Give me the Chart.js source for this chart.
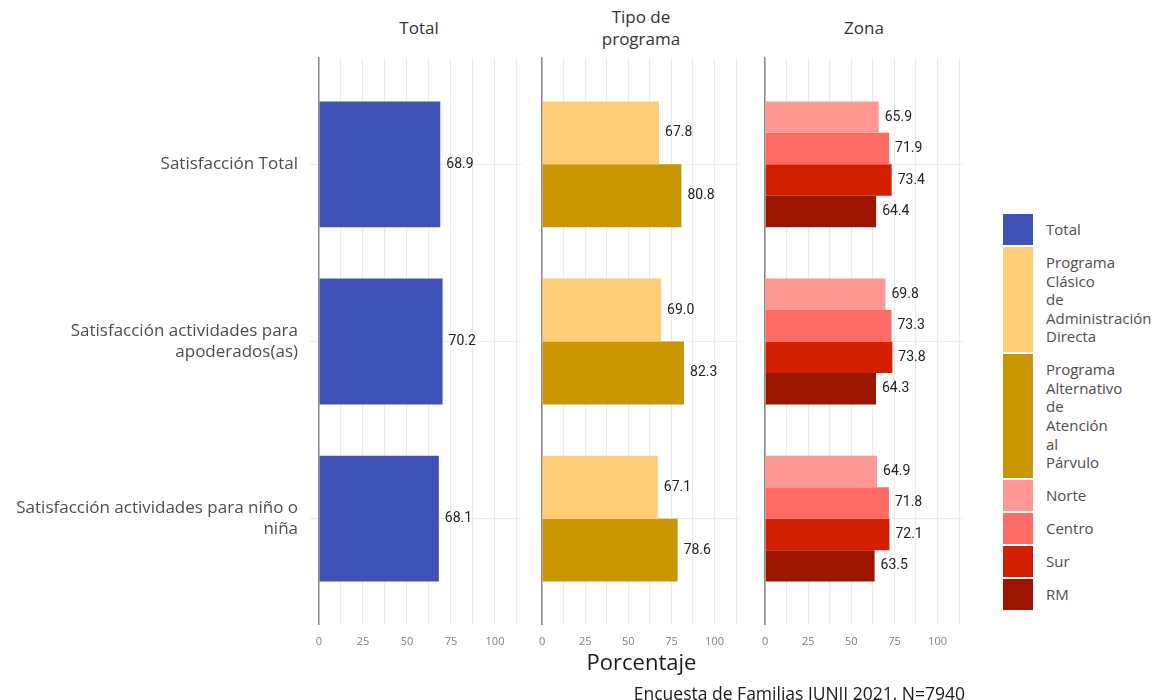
<!DOCTYPE html>
<html>
<head>
<meta charset="utf-8">
<script src="https://cdn.jsdelivr.net/npm/chart.js@4.4.0/dist/chart.umd.min.js"></script>
<style>
  body { margin: 0; background: #fff; font-family: "Open Sans", "Noto Sans", sans-serif; }
  #wrap { position: relative; width: 1156px; height: 700px; overflow: hidden; }
  canvas { position: absolute; top: 0; }
  .titulo { position: absolute; text-align: center; font-size: 17px; line-height: 22px; color: #333; }
  #ejeX { position: absolute; left: 319px; width: 645px; top: 646px; text-align: center; font-size: 22px; color: #1a1a1a; }
  #fuente { position: absolute; right: 191px; top: 681px; font-size: 17.5px; color: #1a1a1a; white-space: nowrap; }
  .clave { position: absolute; left: 1003px; width: 30px; }
  .texto { position: absolute; left: 1046px; font-size: 15px; line-height: 18.6px; color: #4d4d4d; }
</style>
</head>
<body>
<div id="wrap">
  <div class="titulo" style="left:319px;width:200px;top:17px">Total</div>
  <div class="titulo" style="left:541px;width:200px;top:6px">Tipo de<br>programa</div>
  <div class="titulo" style="left:764px;width:200px;top:17px">Zona</div>
  <canvas id="panelTotal" width="527" height="655" style="left:0px"></canvas>
  <canvas id="panelTipo" width="217" height="655" style="left:529px"></canvas>
  <canvas id="panelZona" width="217" height="655" style="left:752px"></canvas>
  <div id="ejeX">Porcentaje</div>
  <div id="fuente">Encuesta de Familias JUNJI 2021, N=7940</div>
  <div id="leyenda"></div>
</div>
<script>
const categorias = [
  ["Satisfacción Total"],
  ["Satisfacción actividades para", "apoderados(as)"],
  ["Satisfacción actividades para niño o", "niña"]
];
const total = [68.9, 70.2, 68.1];
const clasico = [67.8, 69.0, 67.1];
const alternativo = [80.8, 82.3, 78.6];
const norte = [65.9, 69.8, 64.9];
const centro = [71.9, 73.3, 71.8];
const sur = [73.4, 73.8, 72.1];
const rm = [64.4, 64.3, 63.5];
const ticksX = [0, 25, 50, 75, 100];

const serieTotal = [{ nombre: "Total", valores: total, color: "#3f51b5" }];
const serieTipo = [
  { nombre: "Programa Clásico de Administración Directa", valores: clasico, color: "#ffcd75" },
  { nombre: "Programa Alternativo de Atención al Párvulo", valores: alternativo, color: "#c99602" }
];
const serieZona = [
  { nombre: "Norte", valores: norte, color: "#ff9792" },
  { nombre: "Centro", valores: centro, color: "#ff6b64" },
  { nombre: "Sur", valores: sur, color: "#d11f00" },
  { nombre: "RM", valores: rm, color: "#9d1500" }
];

// etiquetas con el valor al final de cada barra
const etiquetasValor = {
  id: "etiquetasValor",
  afterDatasetsDraw(chart) {
    let ctx = chart.ctx;
    ctx.save();
    ctx.font = "14px Roboto";
    ctx.fillStyle = "#222";
    ctx.textBaseline = "middle";
    chart.data.datasets.forEach((ds, d) => {
      chart.getDatasetMeta(d).data.forEach((barra, i) => {
        ctx.fillText(ds.data[i].x.toFixed(1), barra.x + 6, barra.y);
      });
    });
    ctx.restore();
  }
};

function crearPanel(id, series, conEtiquetas) {
  let ctx = document.getElementById(id);
  return new Chart(ctx, {
    type: "bar",
    data: {
      datasets: series.map((s) => ({
        label: s.nombre,
        data: s.valores.map((v, i) => ({ x: v, y: i })),
        backgroundColor: s.color,
        borderWidth: 0,
        categoryPercentage: 0.71,
        barPercentage: 1
      }))
    },
    options: {
      indexAxis: "y",
      responsive: false,
      animation: false,
      layout: { padding: { top: 58, left: 0, right: 0, bottom: 0 } },
      plugins: { legend: { display: false }, tooltip: { enabled: false } },
      scales: {
        x: {
          type: "linear",
          min: 0,
          max: 115,
          afterBuildTicks: (s) => {
            s.ticks = [0, 12.5, 25, 37.5, 50, 62.5, 75, 87.5, 100, 112.5].map((v) => ({ value: v }));
          },
          afterFit: (s) => { s.height = 30; },
          ticks: {
            autoSkip: false,
            maxRotation: 0,
            padding: 10,
            color: "#7f7f7f",
            font: { family: "Open Sans", size: 11 },
            callback: (v) => (ticksX.includes(v) ? v : "")
          },
          grid: { color: "#ebebeb", lineWidth: 1.1, drawTicks: false },
          border: { display: false }
        },
        y: {
          type: "linear",
          min: -0.6,
          max: 2.6,
          reverse: true,
          offset: false,
          afterBuildTicks: (s) => {
            s.ticks = categorias.map((c, i) => ({ value: i }));
          },
          afterFit: (s) => { s.width = conEtiquetas ? 319 : 10; },
          ticks: {
            display: conEtiquetas,
            padding: 12,
            color: "#4d4d4d",
            font: { family: "Open Sans", size: 17, lineHeight: 1.25 },
            callback: (v) => categorias[v]
          },
          grid: { offset: false, color: "#ebebeb", lineWidth: 1.1, drawTicks: conEtiquetas, tickLength: 9 },
          border: { color: "#888", width: 1.5 }
        }
      }
    },
    plugins: [etiquetasValor]
  });
}

crearPanel("panelTotal", serieTotal, true);
crearPanel("panelTipo", serieTipo, false);
crearPanel("panelZona", serieZona, false);

// leyenda
let leyenda = document.getElementById("leyenda");
let y = 214;
serieTotal.concat(serieTipo, serieZona).forEach((s) => {
  let lineas = s.nombre.split(" ");
  let alto = Math.max(31, Math.round(lineas.length * 18.6 + 12));
  let clave = document.createElement("div");
  clave.className = "clave";
  clave.style.top = y + "px";
  clave.style.height = alto + "px";
  clave.style.background = s.color;
  leyenda.appendChild(clave);
  let texto = document.createElement("div");
  texto.className = "texto";
  texto.style.top = (y + alto / 2 - (lineas.length * 18.6) / 2) + "px";
  texto.innerHTML = lineas.join("<br>");
  leyenda.appendChild(texto);
  y += alto + 2;
});
</script>
</body>
</html>
